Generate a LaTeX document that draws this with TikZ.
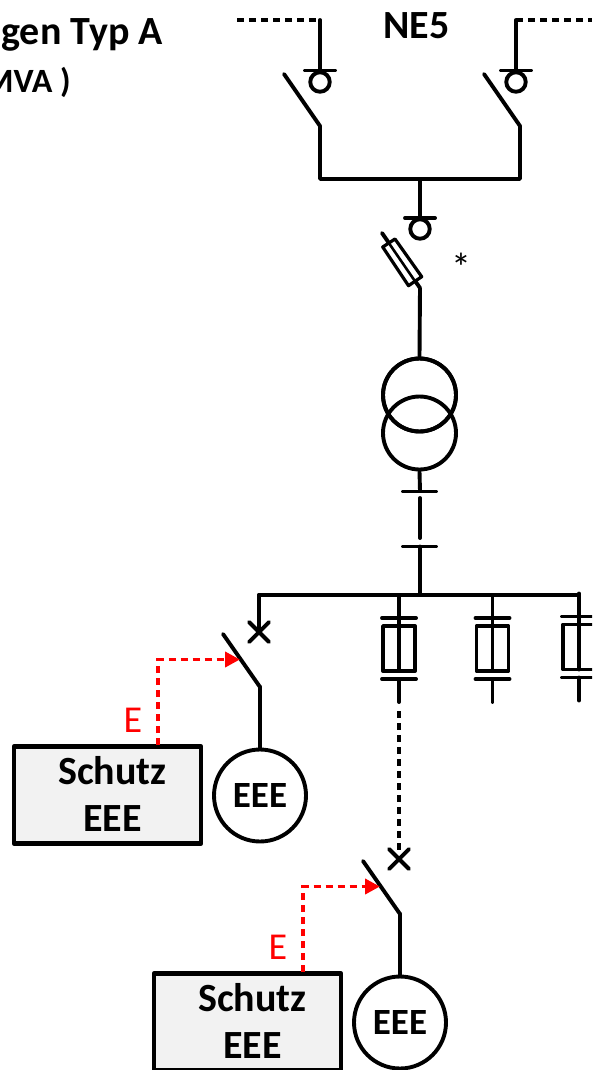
\documentclass[tikz,border=0pt]{standalone}
\usepackage{fontspec}
\setmainfont{Carlito}
\usetikzlibrary{arrows.meta}
\tikzset{
  x=1pt,y=-1pt,
  wire/.style={draw=black,line width=3.9pt,line cap=round,line join=round},
  dashwire/.style={draw=black,line width=3.9pt,dash pattern=on 7pt off 5pt},
  sig/.style={draw=red,line width=3.9pt,dash pattern=on 7pt off 5pt,-{Triangle[length=15pt,width=15pt,fill=red]}},
  ring/.style={circle,draw=black,line width=3.9pt,minimum size=19.5pt,inner sep=0pt,fill=white},
  bigring/.style={circle,draw=black,line width=3.9pt,minimum size=92pt,inner sep=0pt,font=\bfseries\fontsize{37}{37}\selectfont},
  trafo/.style={circle,draw=black,line width=3.9pt,minimum size=73pt,inner sep=0pt},
  schutz/.style={rectangle,draw=black,line width=4.5pt,fill=black!5,minimum width=187pt,minimum height=97pt,inner sep=0pt,line join=round},
  boldtext/.style={font=\bfseries\fontsize{40}{40}\selectfont,inner sep=0pt},
  head/.style={font=\bfseries\fontsize{40}{40}\selectfont,inner sep=0pt},
  redlabel/.style={font=\fontsize{38}{38}\selectfont,text=red,inner sep=0pt},
}
\newcommand{\fusesym}[3]{% x, y-shift, name
  \begin{scope}[shift={(#1,#2)}]
    \coordinate (#3top) at (0,595);
    \coordinate (#3bar) at (0,618);
    \coordinate (#3bot) at (0,679);
    \coordinate (#3end) at (0,702);
    \path[wire] (#3top) -- (#3bar);
    \path[wire] (-17,618) -- (17,618);
    \path[wire] (-16,626) rectangle (16,671);
    \path[wire] (#3bar) -- (0,671);
    \path[wire] (-17,679) -- (17,679);
    \path[wire] (#3bot) -- (#3end);
  \end{scope}
}
\newcommand{\feeder}[4]{% dx, dy, name, red offset
  \begin{scope}[shift={(#1,#2)}]
    \coordinate (#3xc) at (-1,632);
    \coordinate (#3sa) at (-37,634);
    \coordinate (#3sb) at (0,687);
    \path[wire] (#3xc) ++(-10,-10) -- ++(20,20) ++(-20,0) -- ++(20,-20);
    \path[wire] (#3sa) -- (#3sb);
    \node[bigring] (#3gen) at (0,795.5) {EEE};
    \path[wire] (#3sb) -- (#3gen.north);
    \node[schutz] (#3box) at (-152.5,795) {};
    \node[boldtext] (#3t1) at (-147.5,771) {Schutz};
    \node[boldtext] (#3t2) at (-147.5,819) {EEE};
    \coordinate (#3up) at (-102+#4,745);
    \coordinate (#3corner) at (-102+#4,659.5);
    \coordinate (#3tip) at (-20,659.5);
    \draw[sig] (#3up) -- (#3corner) -- (#3tip);
    \node[redlabel] (#3e) at (-127+#4,720) {E};
  \end{scope}
}
\begin{document}
\begin{tikzpicture}
\useasboundingbox (0,0) rectangle (592,1070);
\clip (0,0) rectangle (592,1070);
% titles
\node[head,anchor=base east] (title) at (163,44.5) {gen Typ A};
\node[font=\bfseries\fontsize{34}{34}\selectfont,inner sep=0pt,anchor=base east] (sub) at (71,93) {MVA )};
\node[head] (ne) at (416.5,26) {NE5};
\node[font=\fontsize{40}{40}\selectfont,inner sep=0pt] (star) at (461,267) {*};
% incoming feeders
\coordinate (la) at (237,20);
\coordinate (lb) at (320,20);
\coordinate (lc) at (320,70);
\coordinate (ra) at (592,20);
\coordinate (rb) at (516,20);
\coordinate (rc) at (516,70);
\draw[dashwire] (la) -- (lb);
\draw[dashwire] (rb) -- (ra);
\path[wire] (lb) -- (lc);
\path[wire] (rb) -- (rc);
\path[wire] (305,70.5) -- (335,70.5);
\path[wire] (501,70.5) -- (531,70.5);
\node[ring] (lr) at (320,82) {};
\node[ring] (rr) at (516,82) {};
\coordinate (lsa) at (284,74);
\coordinate (lsb) at (320,126);
\coordinate (rsa) at (484,74);
\coordinate (rsb) at (520,126);
\coordinate (bl) at (320,179);
\coordinate (br) at (520,179);
\path[wire] (lsa) -- (lsb) -- (bl) -- (br) -- (rsb) -- (rsa);
% centre drop
\coordinate (mt) at (420,179);
\coordinate (mb) at (420,218);
\path[wire] (mt) -- (mb);
\path[wire] (405,218) -- (435,218);
\node[ring] (mr) at (420,229) {};
% fuse
\coordinate (fa) at (382,233);
\coordinate (fb) at (420,288);
\path[wire] (fa) -- (fb);
\path[draw=black,line width=3.2pt,fill=white,line join=round] (382.7,247) -- (395,239) -- (421.7,276.7) -- (408.5,285.7) -- cycle;
\path[draw=black,line width=2.6pt] (388.8,243) -- (415,281.2);
% transformer
\node[trafo] (t1) at (419.5,395) {};
\node[trafo] (t2) at (419.5,433) {};
\node[circle,draw=black,line width=3.9pt,minimum size=73pt,inner sep=0pt] at (419.5,395) {};
\path[wire] (fb) -- (t1.north);
\path[wire] (t2.south) -- (420,491);
\path[wire] (403,491.5) -- (436,491.5);
\path[wire] (420,498) -- (420,538);
\path[wire] (403,546.5) -- (436,546.5);
\coordinate (bus) at (420,595);
\path[wire] (420,546.5) -- (bus);
% bus bar
\coordinate (busl) at (259,595);
\coordinate (busr) at (579,595);
\path[wire] (busl) -- (busr);
\path[wire] (busl) -- (259,632);
% outgoing fuses
\fusesym{399}{0}{fa}
\fusesym{492.5}{0}{fb}
\fusesym{579}{-1.5}{fc}
% feeders
\feeder{260}{0}{g}{0}
\feeder{400}{227}{h}{5}
\draw[dashwire] (faend) ++(0,9) -- (399,852);
\end{tikzpicture}
\end{document}
